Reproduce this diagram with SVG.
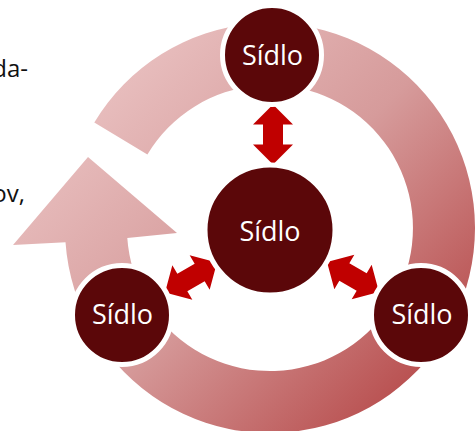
<svg xmlns="http://www.w3.org/2000/svg" width="475" height="431" viewBox="0 0 475 431">
  <defs>
    <linearGradient id="ringFill" gradientUnits="userSpaceOnUse" x1="60" y1="30" x2="460" y2="430">
      <stop offset="0" stop-color="#EECACA"/>
      <stop offset="0.5" stop-color="#D69B9B"/>
      <stop offset="1" stop-color="#B03A3A"/>
    </linearGradient>
    <!-- double-headed arrow along the local x axis, 60 long -->
    <path id="dblArrow" d="M-30,0 L-10,-20 L-10,-10 L10,-10 L10,-20 L30,0 L10,20 L10,10 L-10,10 L-10,20 Z"/>
  </defs>
  <style>
    .side { font-family: "Open Sans", "Liberation Sans", sans-serif; font-size: 24px; fill: #111; }
    .node circle { fill: #5B0709; stroke: #FFFFFF; stroke-width: 5; }
    .node text { font-family: "Open Sans", "Liberation Sans", sans-serif; font-size: 27px; fill: #FFFFFF; text-anchor: middle; }
    .link { fill: #C00000; }
  </style>

  <rect width="475" height="431" fill="#FFFFFF"/>

  <!-- cut-off text at the left edge -->
  <text class="side" x="28" y="77" text-anchor="end">da-</text>
  <text class="side" x="25" y="202" text-anchor="end">ov,</text>

  <!-- circular arrow -->
  <path id="cycle" fill="url(#ringFill)"
        d="M94.3,122.4 A205,205 0 1 1 65.5,242.3 L13,245 L88,157 L177,233 L127.3,238 A143,143 0 1 0 147.4,154.4 Z"/>

  <g id="connectors">
    <use href="#dblArrow" class="link" transform="translate(273,134.5) rotate(90)"/>
    <use href="#dblArrow" class="link" transform="translate(191,277.5) rotate(-30)"/>
    <use href="#dblArrow" class="link" transform="translate(353,277) rotate(30)"/>
  </g>

  <g id="node-top" class="node">
    <circle cx="272" cy="55" r="49.5"/>
    <text x="272.5" y="65">Sídlo</text>
  </g>
  <g id="node-center" class="node">
    <circle cx="270" cy="230" r="65"/>
    <text x="270" y="241">Sídlo</text>
  </g>
  <g id="node-left" class="node">
    <circle cx="122" cy="315" r="49.5"/>
    <text x="122.5" y="324">Sídlo</text>
  </g>
  <g id="node-right" class="node">
    <circle cx="421" cy="315" r="49.5"/>
    <text x="422" y="324">Sídlo</text>
  </g>
</svg>
